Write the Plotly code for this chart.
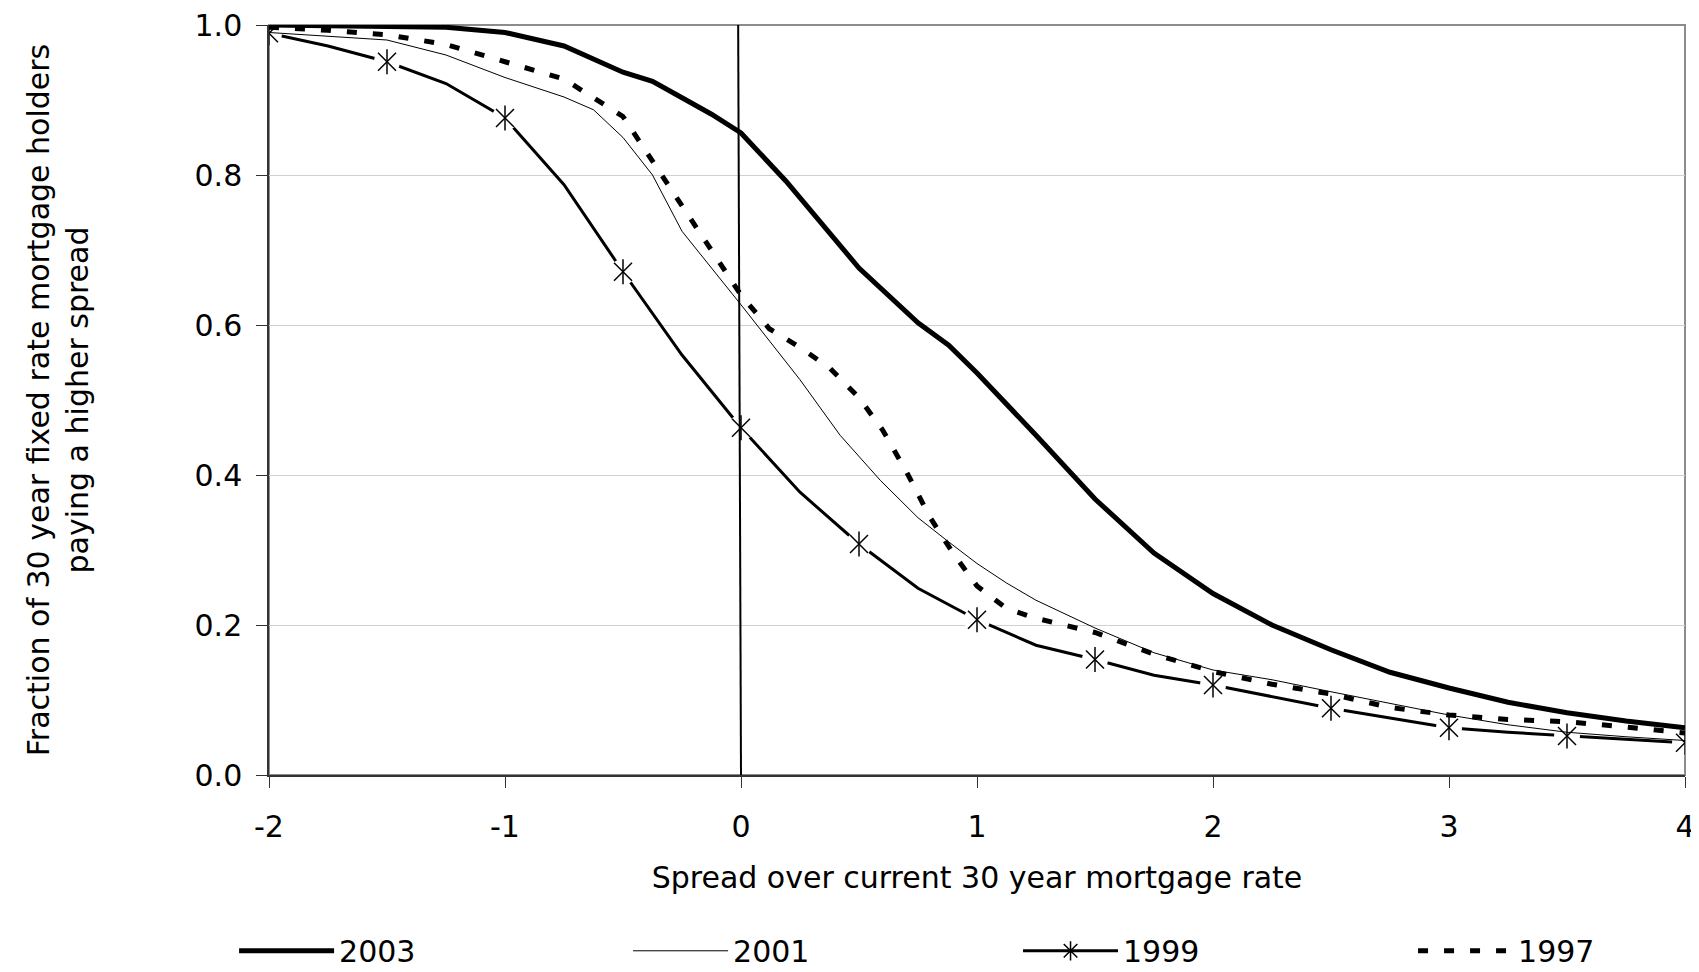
import plotly.graph_objects as go

# ---- data ----
x_2003 = [-2, -1.5, -1.25, -1.0, -0.75, -0.5, -0.375, -0.25, -0.125, 0.0, 0.06, 0.19, 0.5, 0.75, 0.88, 1.0, 1.25, 1.5, 1.75, 2.0, 2.25, 2.5, 2.75, 3.0, 3.25, 3.5, 3.75, 4.0]
y_2003 = [1.0, 0.999, 0.997, 0.99, 0.972, 0.937, 0.925, 0.903, 0.881, 0.856, 0.836, 0.792, 0.676, 0.603, 0.573, 0.536, 0.453, 0.368, 0.296, 0.242, 0.2, 0.167, 0.137, 0.116, 0.097, 0.083, 0.072, 0.063]

x_2001 = [-2, -1.5, -1.25, -1.0, -0.75, -0.625, -0.5, -0.375, -0.25, -0.125, 0.0, 0.25, 0.42, 0.59, 0.75, 0.875, 1.0, 1.125, 1.25, 1.5, 1.75, 2.0, 2.25, 2.5, 2.75, 3.0, 3.25, 3.5, 3.75, 4.0]
y_2001 = [0.99, 0.98, 0.96, 0.93, 0.904, 0.887, 0.85, 0.8, 0.725, 0.676, 0.627, 0.527, 0.453, 0.393, 0.343, 0.312, 0.282, 0.256, 0.233, 0.196, 0.163, 0.14, 0.127, 0.111, 0.096, 0.08, 0.067, 0.057, 0.051, 0.046]

x_1999 = [-2, -1.75, -1.5, -1.25, -1.0, -0.75, -0.5, -0.25, 0.0, 0.25, 0.5, 0.75, 1.0, 1.25, 1.5, 1.75, 2.0, 2.25, 2.5, 2.75, 3.0, 3.25, 3.5, 3.75, 4.0]
y_1999 = [0.989, 0.972, 0.951, 0.922, 0.876, 0.787, 0.671, 0.56, 0.463, 0.377, 0.308, 0.249, 0.207, 0.173, 0.154, 0.133, 0.12, 0.104, 0.089, 0.076, 0.063, 0.057, 0.052, 0.048, 0.043]
# the 1999 series carries a marker every 0.5
xm_1999 = x_1999[::2]
ym_1999 = y_1999[::2]

x_1997 = [-2, -1.75, -1.5, -1.25, -1.0, -0.75, -0.5, -0.25, 0.0, 0.12, 0.25, 0.375, 0.5, 0.6, 0.7, 0.8, 0.9, 1.0, 1.125, 1.25, 1.5, 1.75, 2.0, 2.25, 2.5, 2.75, 3.0, 3.25, 3.5, 3.75, 4.0]
y_1997 = [0.997, 0.993, 0.987, 0.974, 0.951, 0.928, 0.878, 0.76, 0.64, 0.595, 0.57, 0.543, 0.503, 0.46, 0.405, 0.344, 0.295, 0.252, 0.222, 0.209, 0.19, 0.161, 0.138, 0.121, 0.108, 0.09, 0.08, 0.074, 0.071, 0.064, 0.056]

x_ticks = [-2, -1, 0, 1, 2, 3, 4]
y_ticks = [0.0, 0.2, 0.4, 0.6, 0.8, 1.0]

FONT = "DejaVu Sans, Arial, sans-serif"
FS = 30
MK = dict(color="black", size=18, line=dict(color="black", width=1.5))

fig = go.Figure()

# 1999 drawn first so the white gaps round its markers do not cut the other series
fig.add_trace(go.Scatter(
    x=x_1999, y=y_1999, mode="lines", showlegend=False,
    line=dict(color="black", width=3),
))
fig.add_trace(go.Scatter(
    x=xm_1999, y=ym_1999, mode="markers", showlegend=False, hoverinfo="skip",
    marker=dict(symbol="circle", size=26, color="white", line=dict(width=0)),
))
fig.add_trace(go.Scatter(
    x=xm_1999, y=ym_1999, mode="markers", showlegend=False,
    marker=dict(symbol="x-thin-open", **MK),
))
fig.add_trace(go.Scatter(
    x=xm_1999, y=ym_1999, mode="markers", showlegend=False, hoverinfo="skip",
    marker=dict(symbol="line-ns-open", **MK),
))
# legend entry for 1999 (line + marker)
fig.add_trace(go.Scatter(
    x=[None], y=[None], name="1999", mode="lines+markers",
    line=dict(color="black", width=3),
    marker=dict(symbol="asterisk-open", **MK), legend="legend3",
))
fig.add_trace(go.Scatter(
    x=x_2003, y=y_2003, name="2003", mode="lines",
    line=dict(color="black", width=5), legend="legend",
))
fig.add_trace(go.Scatter(
    x=x_2001, y=y_2001, name="2001", mode="lines",
    line=dict(color="black", width=1), legend="legend2",
))
fig.add_trace(go.Scatter(
    x=x_1997, y=y_1997, name="1997", mode="lines",
    line=dict(color="black", width=5, dash="10px,16px"), legend="legend4",
))

# vertical reference line at a spread of 0
fig.add_shape(type="line", x0=-0.012, x1=0.0, y0=1.0, y1=0.0, xref="x", yref="y",
              line=dict(color="black", width=2), layer="above")
# grey frame round the plot area
fig.add_shape(type="rect", x0=0, x1=1, y0=0, y1=1, xref="paper", yref="paper",
              line=dict(color="#8c8c8c", width=2), layer="below")


def leg(xpos):
    return dict(
        orientation="h", xref="container", yref="container",
        x=xpos, xanchor="left", y=0.022, yanchor="middle", itemwidth=95,
        font=dict(family=FONT, size=FS, color="black"),
        bgcolor="rgba(0,0,0,0)",
    )


fig.update_layout(
    width=1691, height=964,
    margin=dict(l=261, r=14, t=17, b=197, autoexpand=False),
    paper_bgcolor="white", plot_bgcolor="white",
    font=dict(family=FONT, size=FS, color="black"),
    showlegend=True,
    legend=leg(0.1337), legend2=leg(0.3667), legend3=leg(0.5973), legend4=leg(0.8309),
    xaxis=dict(
        range=[-2, 4], tickvals=x_ticks, ticktext=[str(v) for v in x_ticks],
        showgrid=False, zeroline=False,
        showline=True, linecolor="#333333", linewidth=1.5,
        ticks="outside", ticklen=11, tickwidth=1, tickcolor="#333333",
        ticklabelstandoff=13, ticklabeloverflow="allow",
        tickfont=dict(family=FONT, size=FS, color="black"),
        title=dict(text="Spread over current 30 year mortgage rate", standoff=24,
                   font=dict(family=FONT, size=FS, color="black")),
    ),
    yaxis=dict(
        range=[0, 1.0], tickvals=y_ticks, tickformat=".1f",
        showgrid=True, gridcolor="#d0d0d0", gridwidth=1, zeroline=False,
        showline=True, linecolor="#333333", linewidth=1.5,
        ticks="outside", ticklen=11, tickwidth=1, tickcolor="#333333",
        ticklabelstandoff=8, ticklabeloverflow="allow",
        tickfont=dict(family=FONT, size=FS, color="black"),
        title=dict(text="Fraction of 30 year fixed rate mortgage holders<br>paying a higher spread",
                   standoff=97, font=dict(family=FONT, size=FS, color="black")),
    ),
)

fig.write_html("out.html")
